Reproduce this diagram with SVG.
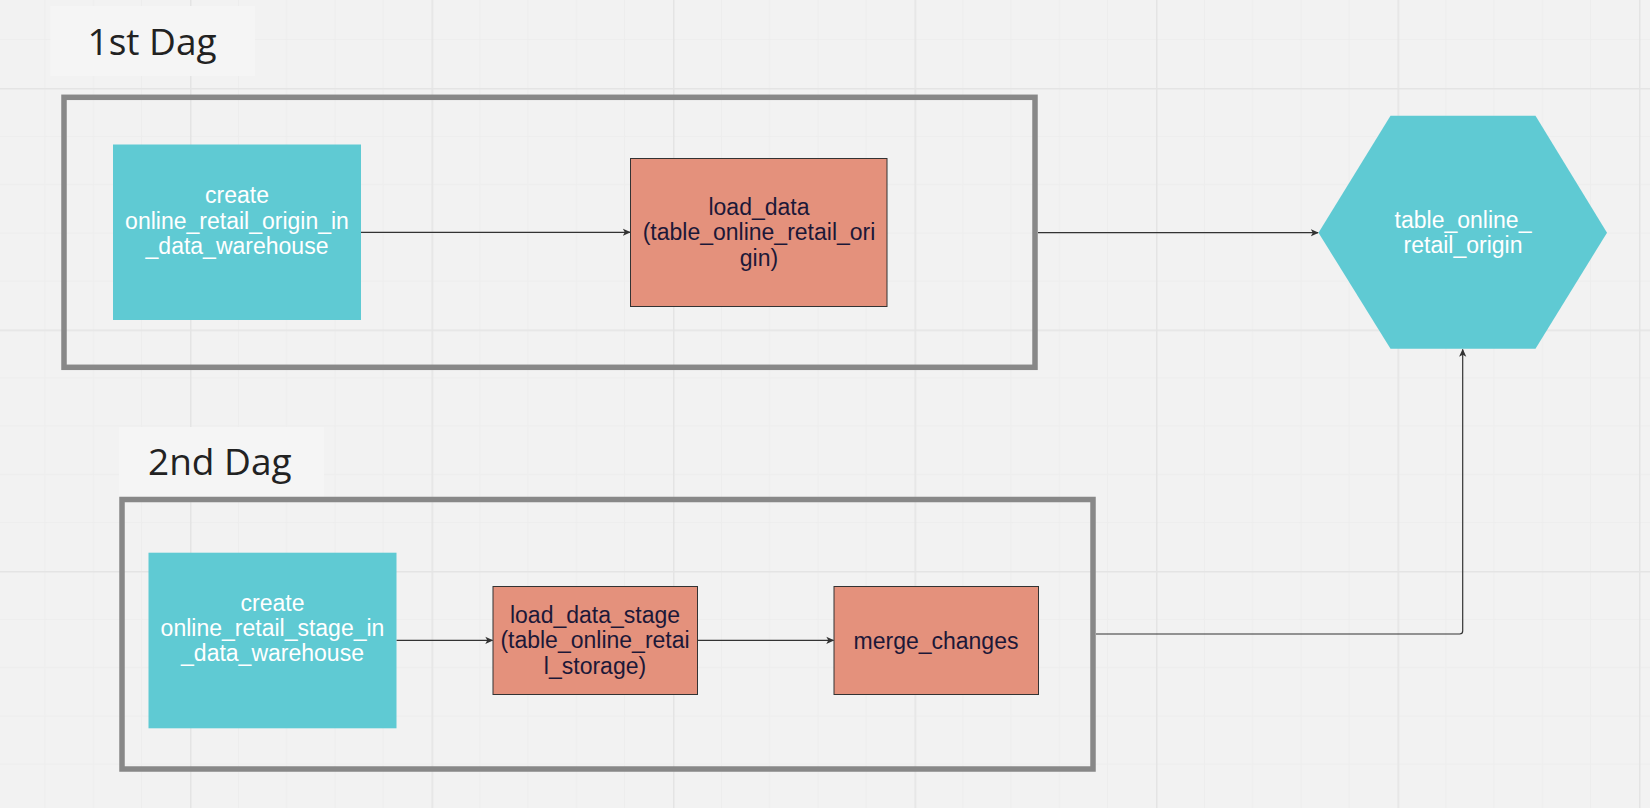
<svg xmlns="http://www.w3.org/2000/svg" width="1650" height="808" viewBox="0 0 1650 808">
<defs>
<pattern id="grid" patternUnits="userSpaceOnUse" x="-51.5" y="-153.5" width="241.5" height="241.5">
<path d="M48.3 0V241.5M96.6 0V241.5M144.9 0V241.5M193.2 0V241.5M0 48.3H241.5M0 96.6H241.5M0 144.9H241.5M0 193.2H241.5" stroke="#ededed" stroke-width="1" fill="none"/>
<path d="M0.75 0V241.5M0 0.75H241.5" stroke="#e4e4e4" stroke-width="1.5" fill="none"/>
</pattern>
<marker id="arr" viewBox="0 0 10 10" refX="9" refY="5" markerWidth="8" markerHeight="8" markerUnits="userSpaceOnUse" orient="auto">
<path d="M0 0.5L10 5L0 9.5L2.5 5Z" fill="#333"/>
</marker>
<style>
.frame{fill:none;stroke:#888;stroke-width:5.5}
.lbl{fill:#f5f5f5}
.lt{font-family:"Open Sans","Noto Sans",sans-serif;font-size:37px;fill:#222}
.cy{fill:#5fcad3}
.rd{fill:#e4917c;stroke:#333;stroke-width:1}
.wt{font-family:"Liberation Sans",Arial,sans-serif;font-size:23px;fill:#fff;text-anchor:middle}
.dt{font-family:"Liberation Sans",Arial,sans-serif;font-size:23px;fill:#1c1838;text-anchor:middle}
.c{fill:none;stroke:#333;stroke-width:1.2;marker-end:url(#arr)}
</style>
</defs>
<rect width="1650" height="808" fill="#f2f2f2"/>
<rect width="1650" height="808" fill="url(#grid)"/>

<g id="label1">
<rect class="lbl" x="50.5" y="6" width="204.5" height="70"/>
<text class="lt" x="87.5" y="55">1st Dag</text>
</g>
<g id="frame1"><rect class="frame" x="64" y="97.3" width="971" height="270"/></g>

<g id="label2">
<rect class="lbl" x="119" y="427" width="205" height="70"/>
<text class="lt" x="148" y="475">2nd Dag</text>
</g>
<g id="frame2"><rect class="frame" x="122" y="499.5" width="971" height="269.5"/></g>

<g id="create_origin">
<rect class="cy" x="113" y="144.5" width="248" height="175.5"/>
<text class="wt"><tspan x="237" y="203">create</tspan><tspan x="237" y="229">online_retail_origin_in</tspan><tspan x="237" y="254">_data_warehouse</tspan></text>
</g>

<g id="load_data">
<rect class="rd" x="630.5" y="158.5" width="256.5" height="148"/>
<text class="dt"><tspan x="759" y="215">load_data</tspan><tspan x="759" y="240">(table_online_retail_ori</tspan><tspan x="759" y="266">gin)</tspan></text>
</g>

<g id="table_online_retail_origin">
<polygon class="cy" points="1318.5,232.7 1390.5,115.7 1535.5,115.7 1607,232.7 1535.5,348.7 1390.5,348.7"/>
<text class="wt"><tspan x="1463" y="228">table_online_</tspan><tspan x="1463" y="253">retail_origin</tspan></text>
</g>

<g id="create_stage">
<rect class="cy" x="148.5" y="552.7" width="248" height="175.6"/>
<text class="wt"><tspan x="272.5" y="611">create</tspan><tspan x="272.5" y="636">online_retail_stage_in</tspan><tspan x="272.5" y="661">_data_warehouse</tspan></text>
</g>

<g id="load_data_stage">
<rect class="rd" x="493" y="586.5" width="204.5" height="108"/>
<text class="dt"><tspan x="595" y="623">load_data_stage</tspan><tspan x="595" y="648">(table_online_retai</tspan><tspan x="595" y="674">l_storage)</tspan></text>
</g>

<g id="merge_changes">
<rect class="rd" x="834" y="586.5" width="204.5" height="108"/>
<text class="dt" x="936" y="649">merge_changes</text>
</g>

<g id="connectors">
<path class="c" d="M361 232.3H630"/>
<path class="c" d="M1038 232.7H1318"/>
<path class="c" d="M396.6 640.3H492.5"/>
<path class="c" d="M697.6 640.3H833.5"/>
<path class="c" d="M1096 634H1459.7Q1462.7 634 1462.7 631V349.5"/>
</g>
</svg>
